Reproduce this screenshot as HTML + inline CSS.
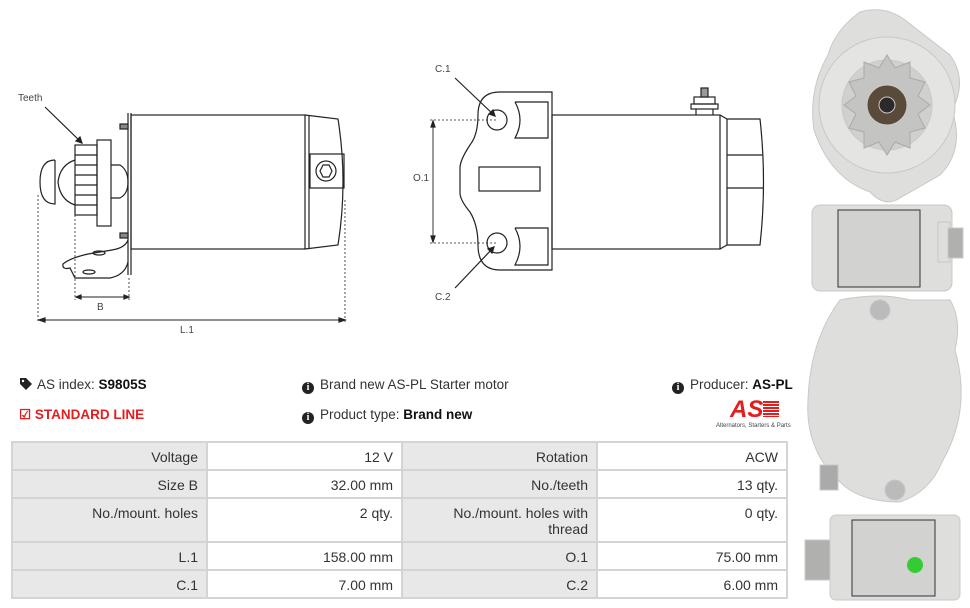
<!DOCTYPE html>
<html><head><meta charset="utf-8"><style>
body{margin:0;width:970px;height:608px;background:#fff;font-family:"Liberation Sans",Arial,sans-serif;color:#333;position:relative;overflow:hidden}
.t{position:absolute;font-size:13.5px;white-space:nowrap}
b{color:#111}
table{position:absolute;left:11px;top:441px;border-collapse:collapse;width:777px;font-size:14px}
td{border:2px solid #d4d4d4;text-align:right;padding:0 8px;vertical-align:top;line-height:16px;padding-top:6px;color:#333}
td.g{background:#e8e8e8}
.ic{display:inline-block;width:12px;height:12px;border-radius:50%;background:#222;color:#fff;font-size:10px;line-height:12px;text-align:center;font-weight:bold;font-family:"Liberation Serif",serif;vertical-align:-1px;margin-right:6px}
</style></head><body>
<svg width="800" height="350" style="position:absolute;left:0;top:0" fill="none" stroke="#222" stroke-width="1.2" font-family="Liberation Sans" font-size="10">
<text x="18" y="101" fill="#444" stroke="none">Teeth</text>
<line x1="45" y1="107" x2="82" y2="143"/><polygon points="82,143 76,141 80,137" fill="#222"/>
<rect x="131" y="115" width="174" height="134"/>
<line x1="131" y1="113" x2="131" y2="275"/><line x1="128" y1="113" x2="128" y2="275"/>
<rect x="120" y="124" width="8" height="5" fill="#888"/><rect x="120" y="233" width="8" height="5" fill="#888"/>
<path d="M305 115 L338 119 Q348 182 338 245 L305 249"/>
<line x1="309" y1="115" x2="309" y2="249"/>
<rect x="310" y="154" width="34" height="34"/>
<circle cx="326" cy="171" r="10"/><polygon points="320,171 323,165 329,165 332,171 329,177 323,177"/>
<rect x="75" y="145" width="22" height="70"/>
<line x1="75" y1="155" x2="97" y2="155"/><line x1="75" y1="165" x2="97" y2="165"/><line x1="75" y1="175" x2="97" y2="175"/><line x1="75" y1="185" x2="97" y2="185"/><line x1="75" y1="195" x2="97" y2="195"/><line x1="75" y1="205" x2="97" y2="205"/>
<rect x="97" y="140" width="14" height="86"/>
<path d="M111 165 L120 165 Q128 170 128 182 Q128 194 120 198 L111 198"/>
<path d="M75 160 Q60 165 58 182 Q60 200 75 205"/>
<path d="M55 160 Q40 160 40 182 Q40 204 55 204 L55 160"/>
<path d="M128 262 Q125 275 110 278 L75 278 L70 268 Q62 270 63 264 Q70 258 88 254 L112 250 Q125 248 128 240"/>
<ellipse cx="99" cy="253" rx="6" ry="2"/><ellipse cx="89" cy="272" rx="6" ry="2"/>
<g stroke-dasharray="2,2" stroke-width="0.8"><line x1="75" y1="215" x2="75" y2="300"/><line x1="129" y1="278" x2="129" y2="300"/><line x1="38" y1="195" x2="38" y2="322"/><line x1="345" y1="200" x2="345" y2="322"/></g>
<line x1="76" y1="297" x2="129" y2="297" stroke-width="0.9"/><polygon points="76,297 81,295 81,299" fill="#222"/><polygon points="129,297 124,295 124,299" fill="#222"/>
<text x="97" y="310" fill="#444" stroke="none">B</text>
<line x1="39" y1="320" x2="345" y2="320" stroke-width="0.9"/><polygon points="39,320 45,318 45,322" fill="#222"/><polygon points="345,320 339,318 339,322" fill="#222"/>
<text x="180" y="333" fill="#444" stroke="none">L.1</text>
<text x="435" y="72" fill="#444" stroke="none">C.1</text>
<text x="413" y="181" fill="#444" stroke="none">O.1</text>
<text x="435" y="300" fill="#444" stroke="none">C.2</text>
<path d="M552 92 L500 92 Q478 92 478 115 Q478 135 470 145 Q460 160 460 168 L460 193 Q460 200 470 212 Q478 225 478 245 Q478 270 500 270 L552 270 Z"/>
<circle cx="497" cy="120" r="10"/><circle cx="497" cy="243" r="10"/>
<path d="M515 102 L548 102 L548 138 L515 138 Q525 120 515 102"/>
<path d="M515 228 L548 228 L548 265 L515 265 Q525 246 515 228"/>
<rect x="479" y="167" width="61" height="24"/>
<rect x="552" y="115" width="168" height="134"/>
<path d="M720 115 L727 119 L760 119 Q767 182 760 245 L727 245 L720 249"/>
<line x1="727" y1="119" x2="727" y2="245"/><line x1="727" y1="155" x2="763" y2="155"/><line x1="727" y1="188" x2="763" y2="188"/>
<rect x="691" y="104" width="27" height="5"/><rect x="694" y="97" width="21" height="7"/><rect x="701" y="88" width="7" height="9" fill="#999"/><line x1="696" y1="109" x2="696" y2="115"/><line x1="713" y1="109" x2="713" y2="115"/>
<g stroke-dasharray="2,2" stroke-width="0.8"><line x1="430" y1="120" x2="497" y2="120"/><line x1="430" y1="243" x2="497" y2="243"/></g>
<line x1="433" y1="122" x2="433" y2="241" stroke-width="0.9"/><polygon points="433,121 431,127 435,127" fill="#222"/><polygon points="433,242 431,236 435,236" fill="#222"/>
<line x1="455" y1="78" x2="495" y2="116"/><polygon points="495,116 489,114 493,110" fill="#222"/>
<line x1="455" y1="288" x2="494" y2="247"/><polygon points="494,247 492,253 488,249" fill="#222"/>
</svg>
<svg width="170" height="608" style="position:absolute;top:0;left:800px">
<g fill="#dededc" stroke="#c8c8c6">
<path d="M60 12 Q85 5 105 20 L150 55 Q168 80 152 110 Q165 150 140 175 L100 198 Q85 208 70 192 Q30 178 14 130 Q8 90 28 55 Q35 30 60 12Z"/>
<circle cx="87" cy="105" r="68" fill="#e4e4e2"/>
<circle cx="87" cy="105" r="45" fill="#d0d0ce"/>
<polygon points="87,55 95,68 110,62 110,78 125,82 118,96 130,105 118,114 125,128 110,132 110,148 95,142 87,155 79,142 64,148 64,132 49,128 56,114 44,105 56,96 49,82 64,78 64,62 79,68" fill="#c4c4c2" stroke="#aaa"/>
<circle cx="87" cy="105" r="20" fill="#5a4a3a"/>
<circle cx="87" cy="105" r="8" fill="#2a2a2a"/>
<rect x="12" y="205" width="140" height="86" rx="8"/>
<rect x="38" y="210" width="82" height="77" fill="#d2d2d0" stroke="#333"/>
<rect x="138" y="222" width="12" height="40"/><rect x="148" y="228" width="15" height="30" fill="#b0b0ae"/>
<path d="M40 300 Q80 292 110 300 L150 300 Q162 320 155 350 Q172 410 142 462 Q130 492 100 502 Q60 502 40 482 Q5 450 8 400 Q10 340 40 300Z"/>
<circle cx="80" cy="310" r="10" fill="#bbb"/><circle cx="95" cy="490" r="10" fill="#bbb"/>
<rect x="20" y="465" width="18" height="25" fill="#aaa"/>
<rect x="30" y="515" width="130" height="85" rx="6"/>
<rect x="52" y="520" width="83" height="76" fill="#d2d2d0" stroke="#333"/>
<rect x="5" y="540" width="25" height="40" fill="#b0b0ae"/>
<circle cx="115" cy="565" r="8" fill="#3c3" stroke="none"/>
</g></svg>
<div class="t" style="left:20px;top:377px"><svg width="14" height="12" style="vertical-align:-1px"><path d="M0 0 H6 L12 6 L6 12 L0 6Z" fill="#222"/><circle cx="3" cy="3" r="1.2" fill="#fff"/></svg> AS index: <b>S9805S</b></div>
<div class="t" style="left:19px;top:407px;color:#e41e1e;font-weight:bold">&#9745; STANDARD LINE</div>
<div class="t" style="left:302px;top:377px"><span class="ic">i</span>Brand new AS-PL Starter motor</div>
<div class="t" style="left:302px;top:407px"><span class="ic">i</span>Product type: <b>Brand new</b></div>
<div class="t" style="left:672px;top:377px"><span class="ic">i</span>Producer: <b>AS-PL</b></div>
<div style="position:absolute;left:730px;top:399px;width:52px;height:22px;">
<div style="font:italic bold 24px 'Liberation Sans';color:#e41e1e;line-height:22px">AS<span style="display:inline-block;width:16px;height:16px;background:repeating-linear-gradient(#e41e1e 0 2px,#fff 2px 3px)"></span></div></div>
<div class="t" style="left:716px;top:423px;font-size:6px;color:#444">Alternators, Starters &amp; Parts</div>
<table>
<tr style="height:28px"><td class="g" style="width:177px">Voltage</td><td style="width:177px">12 V</td><td class="g" style="width:177px">Rotation</td><td>ACW</td></tr>
<tr style="height:28px"><td class="g">Size B</td><td>32.00 mm</td><td class="g">No./teeth</td><td>13 qty.</td></tr>
<tr style="height:44px"><td class="g">No./mount. holes</td><td>2 qty.</td><td class="g">No./mount. holes with<br>thread</td><td>0 qty.</td></tr>
<tr style="height:28px"><td class="g">L.1</td><td>158.00 mm</td><td class="g">O.1</td><td>75.00 mm</td></tr>
<tr style="height:28px"><td class="g">C.1</td><td>7.00 mm</td><td class="g">C.2</td><td>6.00 mm</td></tr>
</table>
</body></html>
